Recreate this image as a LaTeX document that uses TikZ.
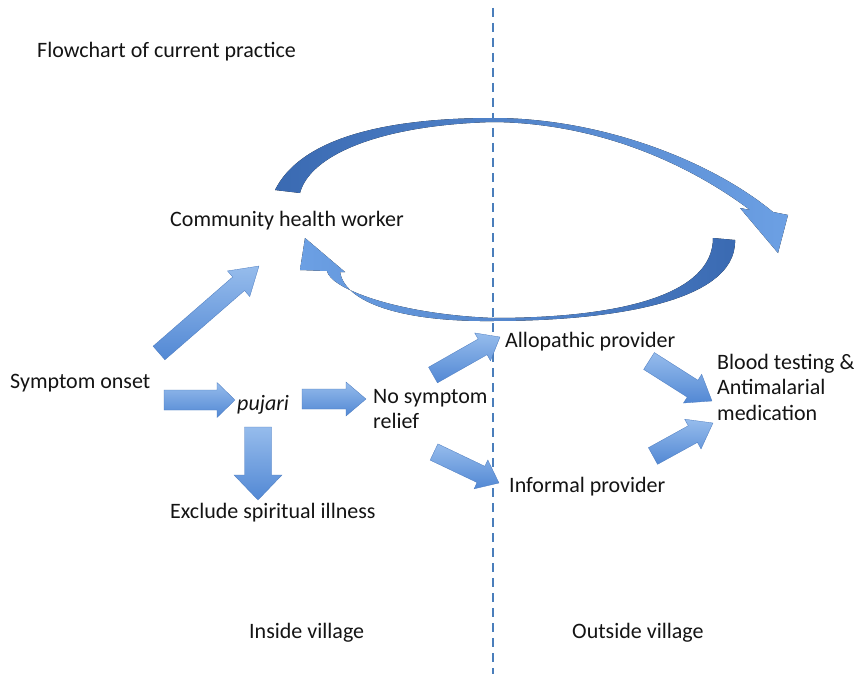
\documentclass[tikz,border=0pt]{standalone}
\usepackage{fontspec}
\setmainfont{Carlito}
\usetikzlibrary{calc}
\definecolor{arrlight}{RGB}{150,188,236}
\definecolor{arrdark}{RGB}{82,136,212}
\definecolor{arcdark}{RGB}{58,106,178}
\definecolor{arclight}{RGB}{108,160,228}
\definecolor{dashblue}{RGB}{74,126,187}
\definecolor{txt}{RGB}{20,20,20}
\tikzset{
  fatarr/.style={top color=arrlight, bottom color=arrdark, draw=arrdark!90!black, line width=0.3pt},
  lbl/.style={anchor=west, inner sep=0pt, text=txt, font=\fontsize{22}{25.5}\selectfont, align=left},
  divider/.style={draw=dashblue, line width=2.4pt, dash pattern=on 9pt off 6pt},
}
\newcommand\fatarrow[5]{%
  \path[fatarr] let \p1=(#1), \p2=(#2),
    \n1={atan2(\y2-\y1,\x2-\x1)}, \n2={veclen(\x2-\x1,\y2-\y1)} in
    [shift={(\p1)}, rotate=\n1]
    (0,#3) -- ({\n2-#5},#3) -- ({\n2-#5},#4) -- (\n2,0) -- ({\n2-#5},-#4)
    -- ({\n2-#5},-#3) -- (0,-#3) -- cycle;}
\begin{document}
\begin{tikzpicture}[x=1pt,y=-1pt]
\useasboundingbox[fill=white] (0,0) rectangle (854,674);

% divider
\coordinate (dtop) at (493,8);
\coordinate (dbot) at (493,674);
\draw[divider] (dtop) -- (dbot);

% texts
\node[lbl] (title) at (37,52) {Flowchart of current practice};
\node[lbl] (chw) at (170,221) {Community health worker};
\node[lbl] (onset) at (10,383) {Symptom onset};
\node[lbl] (pujari) at (237,405) {\itshape pujari};
\node[lbl] (nosym) at (373,409) {No symptom\\relief};
\node[lbl] (excl) at (170,513) {Exclude spiritual illness};
\node[lbl] (allo) at (505,342) {Allopathic provider};
\node[lbl] (inf) at (509,487) {Informal provider};
\node[lbl] (blood) at (717,387) {Blood testing \&\\Antimalarial\\medication};
\node[lbl] (inside) at (249,633) {Inside village};
\node[lbl] (outside) at (572,633) {Outside village};

% arrow end points
\coordinate (a1s) at (159,353); \coordinate (a1e) at (259,266);
\coordinate (a2s) at (164,400); \coordinate (a2e) at (235,400);
\coordinate (a3s) at (302,399); \coordinate (a3e) at (366,399);
\coordinate (a4s) at (258,427); \coordinate (a4e) at (258,500);
\coordinate (a5s) at (433,375); \coordinate (a5e) at (500,337);
\coordinate (a6s) at (434,452); \coordinate (a6e) at (499,483);
\coordinate (a7s) at (649,361); \coordinate (a7e) at (712,401);
\coordinate (a8s) at (653,456); \coordinate (a8e) at (713,423);

\fatarrow{a1s}{a1e}{9}{17}{27}
\fatarrow{a2s}{a2e}{10}{17.5}{18}
\fatarrow{a3s}{a3e}{10}{17}{20}
\fatarrow{a4s}{a4e}{13.5}{24}{25}
\fatarrow{a5s}{a5e}{9}{16}{20}
\fatarrow{a6s}{a6e}{9}{16}{20}
\fatarrow{a7s}{a7e}{10}{17}{23}
\fatarrow{a8s}{a8e}{9.5}{17}{23}

% top curved arrow (CHW -> outside)
\fill[left color=arcdark, right color=arclight]
  (275,190) .. controls (300,140) and (380,118) .. (493,118)
  .. controls (600,118) and (710,160) .. (773,212)
  -- (788,215) -- (778,253) -- (740,208) -- (750,210)
  .. controls (690,165) and (600,123) .. (493,122)
  .. controls (380,125) and (310,155) .. (300,193) -- cycle;

% bottom curved arrow (outside -> CHW)
\fill[left color=arclight, right color=arcdark]
  (713,238) -- (735,240)
  .. controls (737,305) and (600,321) .. (493,321)
  .. controls (400,322) and (345,302) .. (340,272)
  -- (345,272) -- (305,238) -- (300,270) -- (327,271)
  .. controls (330,288) and (395,314) .. (493,318)
  .. controls (620,318) and (713,295) .. (713,238) -- cycle;
\end{tikzpicture}
\end{document}
